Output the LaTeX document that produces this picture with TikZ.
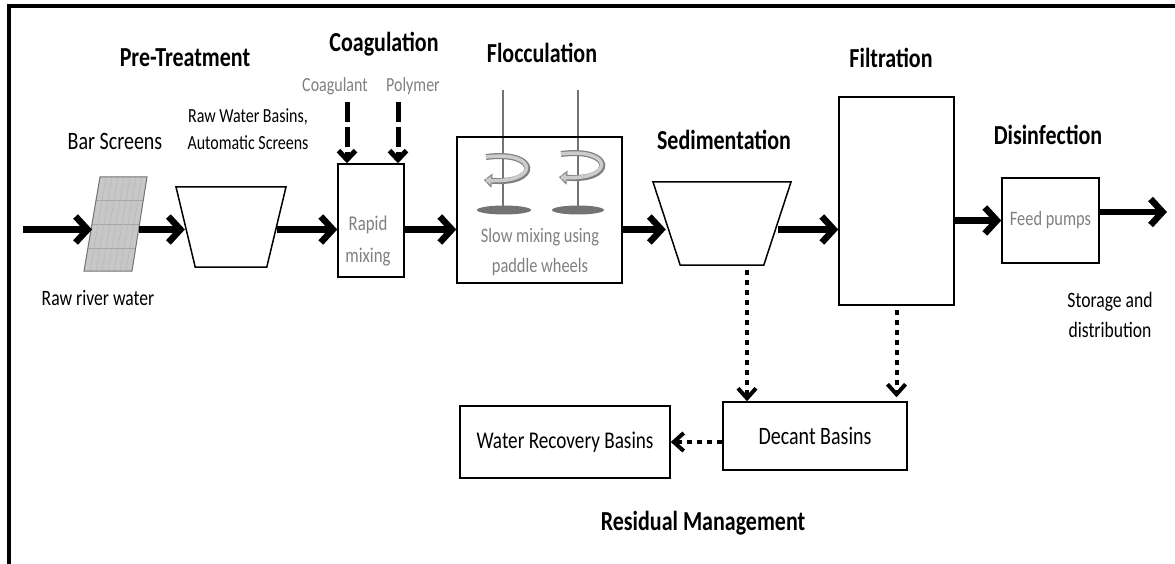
\documentclass[tikz,border=0pt]{standalone}
\usepackage{fontspec}
\setmainfont{Carlito}[FakeStretch=0.8]
\usetikzlibrary{arrows.meta,shapes.geometric}

\tikzstyle{box}=[draw,line width=1.5pt,rectangle,inner sep=0pt]
\tikzstyle{basin}=[draw,line width=1.5pt,trapezium,trapezium stretches=true,inner sep=2pt]
\tikzstyle{screen}=[draw=black!55,fill=black!22,line width=1pt]
\tikzstyle{ttl}=[font=\fontsize{27.5}{30}\selectfont\bfseries,anchor=base]
\tikzstyle{lbl}=[anchor=base,align=center,inner sep=0pt]
\tikzstyle{gry}=[lbl,text=black!50]
\tikzstyle{flow}=[line width=6.5pt,-{Straight Barb[length=12pt,width=26pt]}]
\tikzstyle{dose}=[line width=5pt,dash pattern=on 20pt off 5pt,-{Straight Barb[length=9pt,width=17pt]}]
\tikzstyle{sludge}=[line width=4pt,dash pattern=on 5pt off 5pt,-{Straight Barb[length=10pt,width=18pt]}]
\tikzstyle{shaft}=[line width=2pt,black!55]
\tikzstyle{band}=[line width=6pt,draw=black!50,-{Triangle[length=8pt,width=14pt,line width=1pt,fill=black!20]},postaction={draw=black!20,line width=3.5pt,-,shorten >=2pt}]

\begin{document}
\begin{tikzpicture}[x=1pt,y=-1pt]
	\useasboundingbox (0,0) rectangle (1175,564);
	\draw[line width=4pt] (1175,6) -- (9,6) -- (9,564);

	\node[ttl] (pretr) at (185,67) {Pre-Treatment};
	\node[ttl] (coag) at (384,52) {Coagulation};
	\node[ttl] (flocc) at (542,63) {Flocculation};
	\node[ttl] (sedi) at (724,150) {Sedimentation};
	\node[ttl] (filtr) at (891,68) {Filtration};
	\node[ttl] (disinf) at (1048,145) {Disinfection};
	\node[ttl] (resid) at (703,530) {Residual Management};

	\node[lbl,font=\fontsize{25}{28}\selectfont] (barlbl) at (115,150) {Bar Screens};
	\node[lbl,font=\fontsize{20}{27}\selectfont] (rwlbl) at (248,150) {Raw Water Basins,\\Automatic Screens};
	\node[gry,font=\fontsize{20}{24}\selectfont] (coaglbl) at (335,92) {Coagulant};
	\node[gry,font=\fontsize{20}{24}\selectfont] (polylbl) at (413,92) {Polymer};
	\node[lbl,font=\fontsize{22}{26}\selectfont] (rivlbl) at (98,305) {Raw river water};
	\node[lbl,font=\fontsize{22}{30}\selectfont] (storlbl) at (1110,337) {Storage and\\distribution};

	% bar screen
	\draw[screen,path picture={
			\foreach \y in {200,224,248} \draw[black!35,line width=.6pt] (70,\y) -- (160,\y);
			\foreach \x in {60,66,...,150} \draw[black!30,line width=.4pt] (\x,271) -- (\x+16,177);
		}] (84,271) -- (100,177) -- (147,177) -- (132,271) -- cycle;
	\coordinate (barin) at (92,229.5);
	\coordinate (barout) at (139,229.5);

	\node[basin,trapezium angle=105,minimum width=110pt,minimum height=80pt] (t1) at (231,227) {};
	\node[box,minimum width=66pt,minimum height=113pt] (rapid) at (371,220.5) {};
	\node[gry,font=\fontsize{21}{32}\selectfont] (rapidtxt) at (368,262) {Rapid\\mixing};

	\draw[shaft] (503,90) -- (503,210);
	\draw[shaft] (578,90) -- (578,210);
	\node[box,minimum width=165pt,minimum height=146pt] (floc) at (539.5,210) {};
	\fill[black!55] (504,210) ellipse [x radius=27pt,y radius=4.5pt];
	\fill[black!55] (578,210) ellipse [x radius=26pt,y radius=4.5pt];
	\draw[band] (486,157) .. controls (540,150) and (540,185) .. (484,180);
	\draw[band] (561,154) .. controls (615,147) and (615,182) .. (559,177);
	\node[gry,font=\fontsize{20.5}{30}\selectfont] (floctxt) at (540,272) {Slow mixing using\\paddle wheels};

	\node[basin,trapezium angle=108,minimum width=138pt,minimum height=83pt] (sed) at (722,223.5) {};
	\node[box,minimum width=115pt,minimum height=208pt] (filt) at (896.5,201) {};
	\node[box,minimum width=97pt,minimum height=85pt,text=black!50,font=\fontsize{20.5}{24}\selectfont] (pump) at (1050.5,220.5) {Feed pumps};
	\node[box,minimum width=184pt,minimum height=68pt,font=\fontsize{25}{28}\selectfont] (decant) at (815,436) {Decant Basins};
	\node[box,minimum width=210pt,minimum height=72pt,font=\fontsize{24}{28}\selectfont] (wrb) at (565,442) {Water Recovery Basins};

	\coordinate (src) at (23,229.5);
	\coordinate (out) at (1167,212);
	\draw[flow] (src) -- (barin);
	\draw[flow] (barout) -- (t1.west |- src);
	\draw[flow] (t1.east |- src) -- (rapid.west |- src);
	\draw[flow] (rapid.east |- src) -- (floc.west |- src);
	\draw[flow] (floc.east |- src) -- (sed.west |- src);
	\draw[flow] (sed.east |- src) -- (filt.west |- src);
	\draw[flow] (filt.east |- pump.west) -- (pump.west);
	\draw[flow] (pump.east |- out) -- (out);

	\coordinate (cg) at (347,102);
	\coordinate (pl) at (398,102);
	\draw[dose] (cg) -- (cg |- rapid.north);
	\draw[dose] (pl) -- (pl |- rapid.north);

	\draw[sludge] ([xshift=25pt,yshift=-4pt]sed.south) -- ([xshift=25pt]sed.south |- decant.north);
	\draw[sludge] ([yshift=-4pt]filt.south) -- ([yshift=4pt]filt.south |- decant.north);
	\draw[sludge] (decant.west |- wrb.east) -- (wrb.east);
\end{tikzpicture}
\end{document}
